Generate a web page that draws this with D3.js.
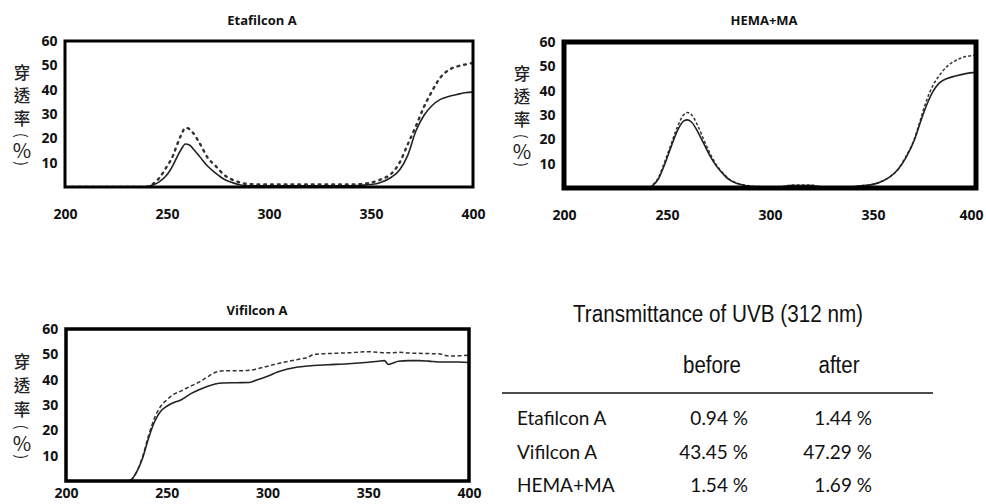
<!DOCTYPE html>
<html><head><meta charset="utf-8">
<script src="https://cdn.jsdelivr.net/npm/d3@7"></script>
<style>body{margin:0;background:#fff;}svg{display:block;}</style>
</head><body>
<script>
// ---------- DATA ----------
const xTicks = [200, 250, 300, 350, 400];
const yTicks = [10, 20, 30, 40, 50, 60];
const yLabelChars = ["穿", "透", "率", "(", "%", ")"];

const etaTitle = "Etafilcon A";
const etaWl     = [200,239,243,246,250,253,255,257,259,261,263,266,270,274,278,282,286,290,300,310,320,330,340,345,350,355,360,364,368,372,376,380,384,388,392,396,400];
const etaBefore = [0,0,0.8,2,5,9,12.5,15.5,17.7,17.3,15.5,12.5,8.5,5.6,3.2,1.8,0.8,0.5,0.5,0.5,0.5,0.5,0.5,0.7,1,2,4,7,13,23,29.5,33.5,36,37.2,38,38.7,39];
const etaAfter  = [0,0,1.2,3.5,8.5,13,17.5,21.5,24.3,23.8,22,18,12,8.5,5,3,1.8,1.2,1,1,1,1,1,1.2,1.8,3.2,5.5,10,17.5,25,33,39.5,45,48,49.5,50.3,51];

const hemaTitle = "HEMA+MA";
const hemaWl     = [200,240,243,246,249,252,255,258,260,262,265,268,271,274,277,280,284,288,292,300,305,310,315,320,325,330,340,345,350,355,358,362,366,370,373,376,379,382,386,390,395,400];
const hemaBefore = [0,0,1,4,10,17,23.5,27.5,28,27,23,18,13,9,6,3.5,1.8,1,0.5,0.5,0.5,1,1,1,0.5,0.5,0.5,1,1.5,3,4.5,7.5,12.5,19.5,27,34,39.5,43,45,46,47,47.5];
const hemaAfter  = [0,0,1.2,4.5,11,18,25,30,31,30,25.5,19.5,14,9.5,6.3,3.8,2,1.2,0.7,0.5,0.5,1.2,1.2,1.2,0.5,0.5,0.5,1,1.5,3,4.5,7.5,13,20,28,36,42,46,50,52.3,54,54.5];

const vifTitle = "Vifilcon A";
const vifWl     = [200,230,232,235,238,241,244,247,250,253,257,262,266,270,274,278,285,291,295,300,305,310,315,320,323,330,340,350,355,358,360,362,365,370,375,380,385,390,395,400];
const vifBefore = [0,0,0.3,3.5,9,17,23.5,27.5,29.5,30.8,32,34.5,36,37.3,38.3,38.7,38.8,38.9,40,41.3,43,44.2,45,45.4,45.6,45.9,46.3,46.9,47.3,47.5,46,46.5,47.3,47.5,47.5,47.3,47,47,47,46.8];
const vifAfter  = [0,0,0.3,3.5,9.5,18,25,29.5,32,34,35.5,37.5,39,41,42.8,43.5,43.5,43.7,44.3,45.3,46.3,47.2,48,48.8,50,50.3,50.6,51,50.8,50.6,50.6,50.6,50.8,50.5,50.4,50.3,50.2,49.3,49.4,49.7];

const tableTitle = "Transmittance of UVB (312 nm)";
const tableHeaders = ["before", "after"];
const tableRows = ["Etafilcon A", "Vifilcon A", "HEMA+MA"];
const tableBefore = [0.94, 43.45, 1.54];
const tableAfter  = [1.44, 47.29, 1.69];

// ---------- LAYOUT ----------
const panels = [
  {title: etaTitle, wl: etaWl, before: etaBefore, after: etaAfter,
   left: 65, right: 473, top: 41, bottom: 187, titleX: 262, titleY: 25, labX: 22,
   frame: 3, dash: "1.8,5", dashW: 2.4, xPad: 22, lastDx: 0},
  {title: hemaTitle, wl: hemaWl, before: hemaBefore, after: hemaAfter,
   left: 564, right: 976, top: 42, bottom: 188, titleX: 764, titleY: 25, labX: 522,
   frame: 5, dash: "3,2", dashW: 1.5, xPad: 22, lastDx: -5},
  {title: vifTitle, wl: vifWl, before: vifBefore, after: vifAfter,
   left: 66, right: 469, top: 329, bottom: 481, titleX: 257, titleY: 315, labX: 22,
   frame: 3.5, dash: "4,2.5", dashW: 1.5, xPad: 7, lastDx: 0}
];
const labFrac = [0.21, 0.37, 0.525, 0.645, 0.745, 0.84];

const svg = d3.select("body").append("svg").attr("width", 986).attr("height", 504);
const tickFont = "'Open Sans', 'Liberation Sans', sans-serif";

panels.forEach((p, i) => {
  const g = svg.append("g");
  const x = d3.scaleLinear().domain([200, 400]).range([p.left, p.right]);
  const y = d3.scaleLinear().domain([0, 60]).range([p.bottom, p.top]);

  const clipId = "clip" + i;
  svg.append("clipPath").attr("id", clipId).append("rect")
    .attr("x", p.left).attr("y", p.top).attr("width", p.right - p.left).attr("height", p.bottom - p.top);

  const line = arr => d3.line().x((d, k) => x(p.wl[k])).y(d => y(d)).curve(d3.curveMonotoneX)(arr);

  g.append("path").attr("d", line(p.after)).attr("fill", "none")
    .attr("stroke", "#333").attr("stroke-width", p.dashW).attr("stroke-dasharray", p.dash)
    .attr("stroke-linecap", i === 0 ? "round" : "butt")
    .attr("clip-path", `url(#${clipId})`);
  g.append("path").attr("d", line(p.before)).attr("fill", "none")
    .attr("stroke", "#222").attr("stroke-width", 1.6)
    .attr("clip-path", `url(#${clipId})`);

  g.append("rect").attr("x", p.left).attr("y", p.top)
    .attr("width", p.right - p.left).attr("height", p.bottom - p.top)
    .attr("fill", "none").attr("stroke", "#000").attr("stroke-width", p.frame);

  const ya = g.append("g").attr("transform", `translate(${p.left},0)`)
    .call(d3.axisLeft(y).tickValues(yTicks).tickSize(0).tickPadding(6 + p.frame / 2));
  ya.select(".domain").remove();
  ya.selectAll("text").attr("font-family", tickFont).attr("font-weight", "bold")
    .attr("font-size", 14).attr("fill", "#111");

  const xa = g.append("g").attr("transform", `translate(0,${p.bottom})`)
    .call(d3.axisBottom(x).tickValues(xTicks).tickSize(0).tickPadding(p.xPad));
  xa.select(".domain").remove();
  xa.selectAll("text").attr("font-family", tickFont).attr("font-weight", "bold")
    .attr("font-size", 14).attr("fill", "#111")
    .attr("dx", (d, k, n) => k === n.length - 1 ? p.lastDx : 0);

  g.append("text").attr("x", p.titleX).attr("y", p.titleY).attr("text-anchor", "middle")
    .attr("font-family", tickFont).attr("font-weight", "bold").attr("font-size", 13)
    .attr("fill", "#111").text(p.title);

  const h = p.bottom - p.top;
  yLabelChars.forEach((c, k) => {
    const cy = p.top + labFrac[k] * h;
    const t = g.append("text").attr("text-anchor", "middle").attr("dominant-baseline", "central")
      .attr("font-family", "'Noto Sans CJK TC', 'Noto Sans CJK SC', sans-serif")
      .attr("fill", "#222").text(c);
    if (c === "(" || c === ")") {
      t.attr("font-size", 15).attr("transform", `translate(${p.labX},${cy}) rotate(90)`);
    } else if (c === "%") {
      t.attr("font-size", 20).attr("x", p.labX).attr("y", cy);
    } else {
      t.attr("font-size", 16.5).attr("font-weight", 500).attr("x", p.labX).attr("y", cy);
    }
  });
});

// ---------- TABLE ----------
const narrowFont = "'Liberation Sans', Arial, sans-serif";
const rowFont = "Lato, 'Open Sans', sans-serif";
const tg = svg.append("g").attr("fill", "#111");
tg.append("text").attr("x", 718).attr("y", 322).attr("text-anchor", "middle")
  .attr("font-family", narrowFont).attr("font-size", 23)
  .attr("textLength", 290).attr("lengthAdjust", "spacingAndGlyphs")
  .text(tableTitle);
const colX = [712, 839];
const headW = [58, 41];
tableHeaders.forEach((hd, k) => {
  tg.append("text").attr("x", colX[k]).attr("y", 373).attr("text-anchor", "middle")
    .attr("font-family", narrowFont).attr("font-size", 23)
    .attr("textLength", headW[k]).attr("lengthAdjust", "spacingAndGlyphs").text(hd);
});
tg.append("line").attr("x1", 502).attr("x2", 933).attr("y1", 393).attr("y2", 393)
  .attr("stroke", "#111").attr("stroke-width", 1.3);
const rowY = d3.scalePoint().domain(tableRows).range([425, 492]);
const valRight = [748, 872];
tableRows.forEach((r, k) => {
  tg.append("text").attr("x", 517).attr("y", rowY(r)).attr("font-family", rowFont)
    .attr("font-size", 19).text(r);
  [tableBefore[k], tableAfter[k]].forEach((v, j) => {
    tg.append("text").attr("x", valRight[j]).attr("y", rowY(r)).attr("text-anchor", "end")
      .attr("font-family", rowFont).attr("font-size", 19).text(v.toFixed(2) + " %");
  });
});
</script>
</body></html>
